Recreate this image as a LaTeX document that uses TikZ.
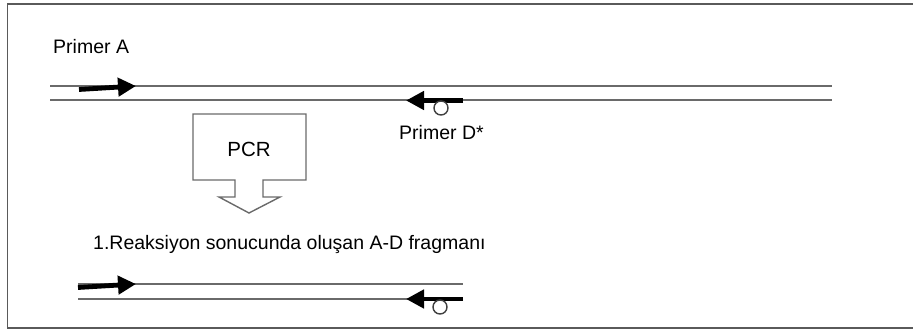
\documentclass[tikz,border=0pt]{standalone}
\usepackage{fontspec}
\setmainfont{Liberation Sans}
\usetikzlibrary{arrows.meta}
\definecolor{strand}{HTML}{6A6A6A}
\definecolor{framegray}{HTML}{5A5A5A}
\tikzset{
  strandline/.style={draw=strand, line width=1.6pt},
  primer/.style={line width=4.8pt, -{Triangle[length=18pt 0 0,width=18pt 0 0]}},
  tag/.style={draw=black!75, fill=white, line width=1.4pt},
  lbl/.style={inner sep=0pt, anchor=base west, font=\fontsize{19.5}{23}\selectfont},
  blockarrow/.style={draw=strand, fill=white, line width=1.4pt, line join=miter}
}
\begin{document}
\begin{tikzpicture}[x=1pt,y=-1pt]
\useasboundingbox (0,0) rectangle (913,331);
% frame
\draw[framegray, line width=1.6pt] (914,4) -- (7.5,4) -- (7.5,328) -- (914,328);

% template strands
\coordinate (t1a) at (50,86);  \coordinate (t1b) at (832,86);
\coordinate (t2a) at (50,100); \coordinate (t2b) at (832,100);
\draw[strandline] (t1a) -- (t1b);
\draw[strandline] (t2a) -- (t2b);

% primer A
\coordinate (pa1) at (79,89.5);  \coordinate (pa2) at (136,86);
\draw[primer] (pa1) -- (pa2);
\node[lbl] (labA) at (53,54) {Primer A};

% primer D* with tag
\coordinate (pd1) at (463,100.5); \coordinate (pd2) at (406,100.5);
\draw[primer] (pd1) -- (pd2);
\node[tag, circle, minimum size=14pt, inner sep=0pt] (tagD) at (441,108) {};
\node[lbl] (labD) at (399,140) {Primer D*};

% PCR block arrow
\draw[blockarrow] (193,114) -- (306,114) -- (306,180) -- (263,180) -- (263,197)
  -- (280,197) -- (249,213) -- (219,197) -- (235,197) -- (235,180) -- (193,180) -- cycle;
\node[inner sep=0pt, anchor=base, font=\fontsize{20.5}{24}\selectfont] (pcr) at (249,157) {PCR};

\node[lbl] (labF) at (93,250) {1.Reaksiyon sonucunda oluşan A-D fragmanı};

% product strands
\coordinate (f1a) at (78,284);  \coordinate (f1b) at (463,284);
\coordinate (f2a) at (78,299);  \coordinate (f2b) at (463,299);
\draw[strandline] (f1a) -- (f1b);
\draw[strandline] (f2a) -- (f2b);

% primers on the product
\coordinate (qa1) at (78,287.5); \coordinate (qa2) at (136,284);
\draw[primer] (qa1) -- (qa2);
\coordinate (qd1) at (463,299); \coordinate (qd2) at (406,299);
\draw[primer] (qd1) -- (qd2);
\node[tag, circle, minimum size=14pt, inner sep=0pt] (tagF) at (440,307) {};
\end{tikzpicture}
\end{document}
